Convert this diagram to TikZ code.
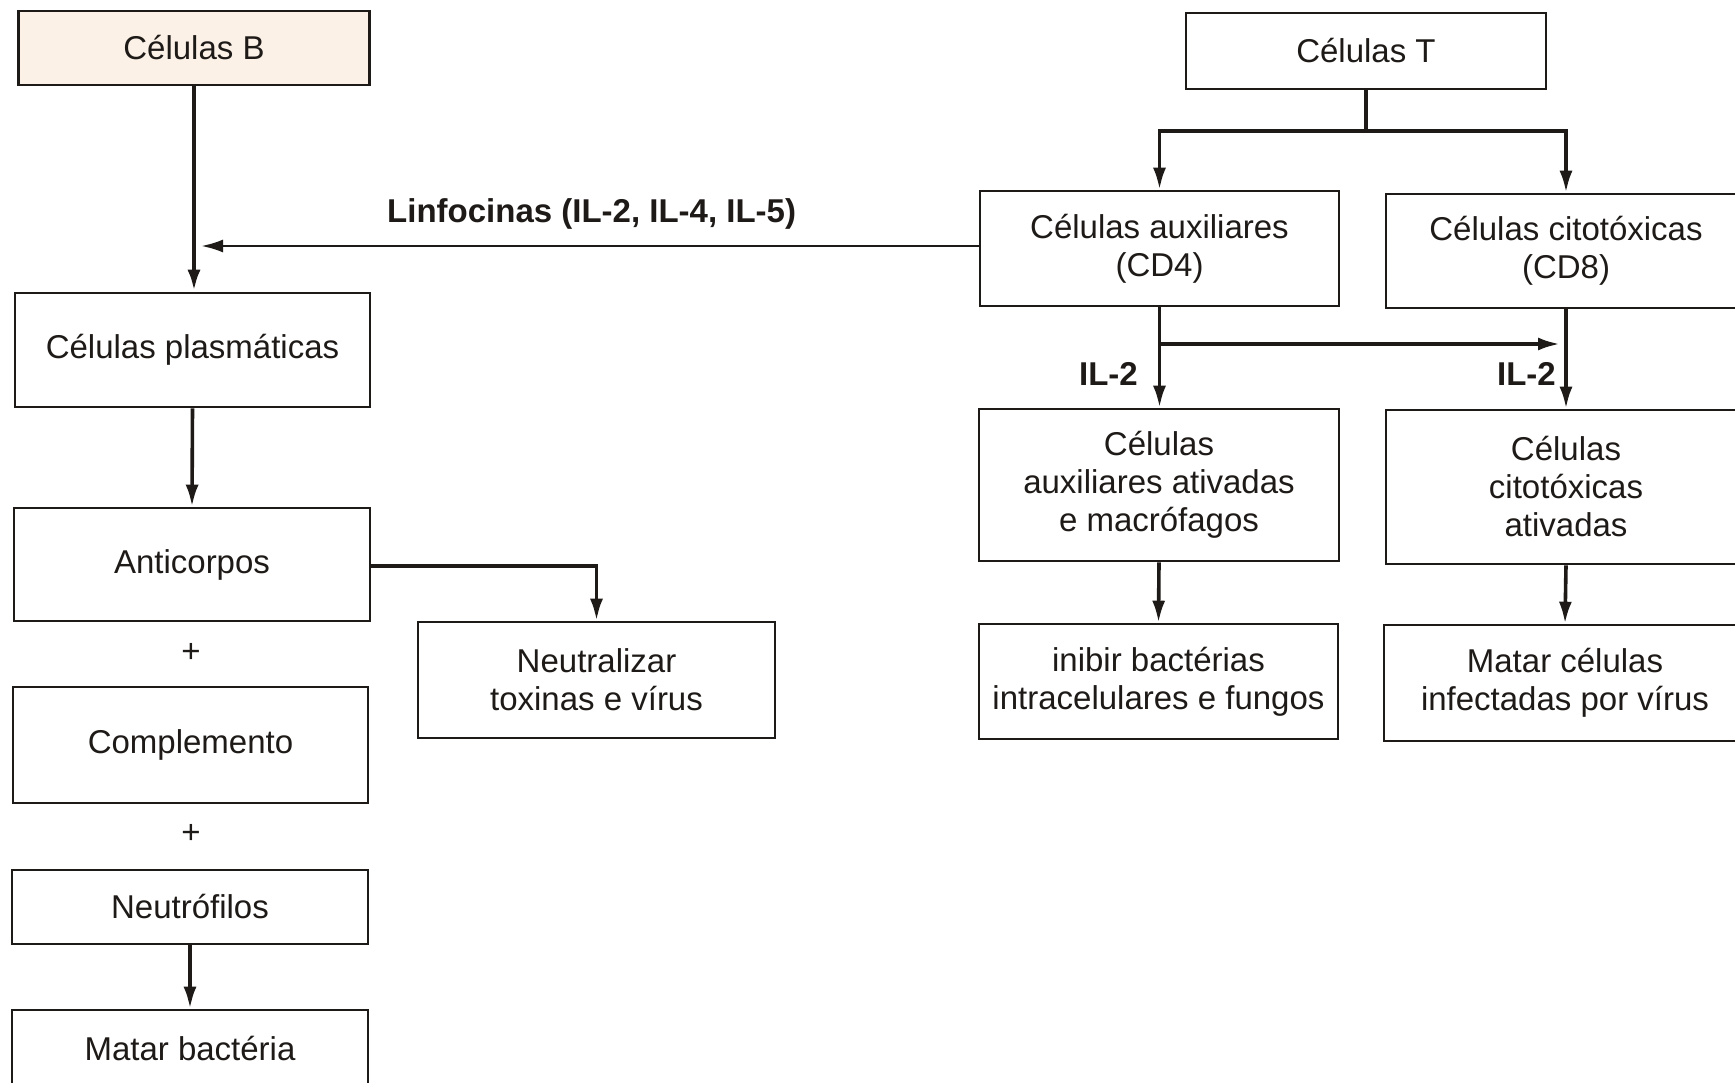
\documentclass[tikz,border=0pt]{standalone}
\usepackage{fontspec}
\setmainfont{Liberation Sans}
\usetikzlibrary{arrows.meta}
\definecolor{ink}{HTML}{1E1A18}
\definecolor{cream}{HTML}{FBF1E6}
\begin{document}
\begin{tikzpicture}[x=1pt,y=-1pt,
  font=\fontsize{33}{38}\selectfont,
  box/.style={draw=ink, line width=2.6pt, fill=white, align=center,
    inner sep=0pt, text=ink},
  arr/.style={draw=ink, line width=3.6pt,
    -{Latex[length=22pt,width=13pt]}},
  plain/.style={draw=ink, line width=3.6pt},
  lbl/.style={font=\fontsize{33}{38}\selectfont\bfseries, text=ink, inner sep=0pt}]
\useasboundingbox (0,0) rectangle (1735,1083);
\begin{scope}
\clip (0,0) rectangle (1735,1083);
% B-cell branch
\node[box, fill=cream, minimum width=351pt, minimum height=74pt] (B) at (194,48) {Células B};
\node[box, minimum width=355pt, minimum height=114pt] (plas) at (192.5,350) {Células plasmáticas};
\node[box, minimum width=356pt, minimum height=113pt] (anti) at (192,564.5) {Anticorpos};
\node[text=ink] (plus1) at (191,653) {+};
\node[box, minimum width=355pt, minimum height=116pt] (comp) at (190.5,745) {Complemento};
\node[text=ink] (plus2) at (191,834) {+};
\node[box, minimum width=356pt, minimum height=74pt] (neut) at (190,907) {Neutrófilos};
\node[box, minimum width=356pt, minimum height=78pt] (mbac) at (190,1049) {Matar bactéria};
\node[box, minimum width=357pt, minimum height=116pt] (neutra) at (596.5,680) {Neutralizar\\toxinas e vírus};
% T-cell branch
\node[box, minimum width=360pt, minimum height=76pt] (T) at (1366,51) {Células T};
\node[box, minimum width=359pt, minimum height=115pt] (aux) at (1159.5,248.5) {Células auxiliares\\(CD4)};
\node[box, minimum width=360pt, minimum height=114pt] (cito) at (1566,251) {Células citotóxicas\\(CD8)};
\node[box, minimum width=360pt, minimum height=152pt] (aaux) at (1159,485) {Células\\auxiliares ativadas\\e macrófagos};
\node[box, minimum width=360pt, minimum height=154pt] (acito) at (1566,487) {Células\\citotóxicas\\ativadas};
\node[box, minimum width=359pt, minimum height=115pt] (inib) at (1158.5,681.5) {inibir bactérias\\intracelulares e fungos};
\node[box, minimum width=362pt, minimum height=116pt] (mcel) at (1565,683) {Matar células\\infectadas por vírus};

% connectors, B side
\draw[arr, line width=4.6pt] (B.south) -- (B.south |- plas.north);
\coordinate (lend) at (201,246);
\draw[arr, line width=2.8pt] (aux.west |- lend) -- (lend);
\node[lbl, anchor=west] (linf) at (387,214) {Linfocinas (IL-2, IL-4, IL-5)};
\draw[arr] (plas.south) -- (anti.north);
\draw[arr] (anti.east |- 0,566) -| (neutra.north);
\draw[arr] (neut.south) -- (mbac.north);

% connectors, T side
\coordinate (tsplit) at (1366,131);
\draw[plain] (T.south) -- (tsplit);
\draw[arr] (tsplit) -| (aux.north);
\draw[arr] (tsplit) -| (cito.north);
\draw[arr] (aux.south) -- (aux.south |- aaux.north);
\coordinate (il) at (0,344);
\draw[arr, shorten >=6pt] (aux.south |- il) -- (cito.south |- il);
\draw[arr] (cito.south) -- (acito.north);
\node[lbl, anchor=east] (il2a) at (1138,374) {IL-2};
\node[lbl, anchor=east] (il2b) at (1556,374) {IL-2};
\draw[arr] (aaux.south) -- (inib.north);
\draw[arr] (acito.south) -- (mcel.north);
\end{scope}
\end{tikzpicture}
\end{document}
